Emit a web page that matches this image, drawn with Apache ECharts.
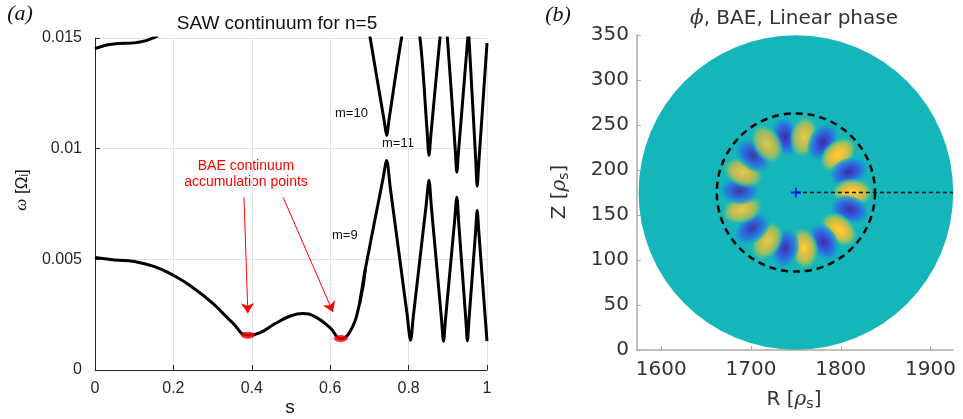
<!DOCTYPE html>
<html><head><meta charset="utf-8">
<script src="https://cdn.jsdelivr.net/npm/echarts@6/dist/echarts.min.js"></script>
<style>html,body{margin:0;padding:0;background:#fff}#c{width:963px;height:419px}</style>
</head><body><div id="c"></div>
<script>
// ---------- Panel (a): SAW continuum ----------
// smooth low-frequency part of the lower branch
const sLowerA = [0,0.05,0.10,0.15,0.20,0.25,0.30,0.35,0.39,0.42,0.46,0.50,0.53,0.56,0.60,0.627,0.65,0.675,0.69];
const wLowerA = [0.00508,0.00497,0.00490,0.00468,0.00428,0.00372,0.00302,0.00215,0.00157,0.00168,0.00210,0.00245,0.00255,0.00242,0.00190,0.00142,0.00172,0.00300,0.00460];
// oscillating part of the lower branch (m=9 ...)
const sLowerB = [0.675,0.69,0.735,0.744,0.753,0.796,0.805,0.812,0.845,0.852,0.858,0.884,0.889,0.894,0.918,0.923,0.928,0.946,0.950,0.954,0.971,0.975,0.979,0.996,1.0];
const wLowerB = [0.00300,0.00460,0.00866,0.00947,0.00827,0.00254,0.00134,0.00242,0.00749,0.00857,0.00739,0.00228,0.00130,0.00226,0.00686,0.00781,0.00661,0.00228,0.00132,0.00226,0.00627,0.00721,0.00627,0.00224,0.00130];
const sUpper = [0.690,0.702,0.738,0.744,0.750,0.782,0.805,0.829,0.847,0.852,0.857,0.880,0.8895,0.899,0.919,0.923,0.927,0.951,0.9525,0.954,0.971,0.975,0.979,1.000];
const wUpper = [0.0163,0.0150,0.01123,0.0106,0.01130,0.0150,0.0170,0.0150,0.01085,0.0097,0.01065,0.0150,0.0165,0.0150,0.00995,0.00894,0.00980,0.0150,0.0153,0.0150,0.00958,0.0083,0.00934,0.01477];
const sTop = [0,0.03,0.06,0.10,0.13,0.15,0.16];
const wTop = [0.01452,0.01468,0.01475,0.01478,0.01488,0.01502,0.0151];
const accumS = [0.39, 0.627];
const accumW = [0.00157, 0.00142];
const arrowFrom = [[0.380, 0.0078], [0.480, 0.0078]];
const arrowTo = [[0.390, 0.00256], [0.607, 0.00262]];
const xTicksA = [0, 0.2, 0.4, 0.6, 0.8, 1];
const yTicksA = [0, 0.005, 0.01, 0.015];

// ---------- Panel (b): phi, BAE ----------
const diskCenter = [1750, 175];
const diskRadius = 175;
const qRadius = 88;
const rayEndR = 1925;
const blobR = [1738,1759,1780,1797,1809,1813,1810,1798,1781,1759,1738,1718,1701,1690,1687,1691,1702,1718];
const blobZ = [237,237,231,217,198,175,156,134,120,113,113,121,135,156,177,197,216,229];
const blobSign = [-1,1,-1,1,-1,1,-1,1,-1,1,-1,1,-1,1,-1,1,-1,1];
const blobAmp = [0.95,0.85,0.95,1,0.95,1,0.95,1,0.95,0.95,0.9,0.85,0.85,0.85,0.85,0.85,0.85,0.8];
const xTicksB = [1600, 1700, 1800, 1900];

const zip = (a, b) => a.map((v, i) => [v, b[i]]);
const TXT = '#262626';
const teal = '#14B6BA';

const chart = echarts.init(document.getElementById('c'), null, {renderer: 'canvas'});

const yellowStops = [
  {offset: 0, color: '#FADB2C'},
  {offset: 0.25, color: '#F5C13A'},
  {offset: 0.5, color: '#D2BE46'},
  {offset: 0.7, color: '#8CC267'},
  {offset: 0.88, color: 'rgba(60,186,160,0.7)'},
  {offset: 1, color: 'rgba(20,182,186,0)'}
];
const blueStops = [
  {offset: 0, color: '#3A2A9A'},
  {offset: 0.25, color: '#3B3FC9'},
  {offset: 0.5, color: '#2F62E0'},
  {offset: 0.7, color: '#2189DA'},
  {offset: 0.88, color: 'rgba(23,170,196,0.7)'},
  {offset: 1, color: 'rgba(20,182,186,0)'}
];

const lineBase = {type: 'line', xAxisIndex: 0, yAxisIndex: 0, symbol: 'none',
  lineStyle: {color: '#000', width: 3}, clip: true, z: 3};

const option = {
  animation: false,
  grid: [
    {left: 95, top: 38, width: 392, height: 332},
    {left: 637, top: 35, width: 316, height: 315}
  ],
  xAxis: [
    {gridIndex: 0, type: 'value', min: 0, max: 1, interval: 0.2,
     axisLine: {show: true, lineStyle: {color: TXT, width: 1}},
     axisTick: {show: true, inside: true, length: 5, lineStyle: {color: TXT}},
     axisLabel: {color: TXT, fontSize: 16, fontFamily: 'Liberation Sans', margin: 11,
       formatter: v => (Math.abs(v) < 1e-9 ? '0' : (Math.abs(v - 1) < 1e-9 ? '1' : String(+v.toFixed(1))))},
     splitLine: {show: true, lineStyle: {color: '#e3e3e3', width: 1}}},
    {gridIndex: 1, type: 'value', min: 1573, max: 1925, splitNumber: 4,
     axisLine: {show: true, lineStyle: {color: '#aaaaaa', width: 1.5}},
     axisTick: {show: true, inside: true, length: 4, lineStyle: {color: '#aaaaaa'}},
     axisLabel: {color: '#333', fontSize: 20, fontFamily: 'DejaVu Sans', margin: 10,
       showMinLabel: false, showMaxLabel: false,
       formatter: v => (xTicksB.indexOf(Math.round(v)) >= 0 ? String(Math.round(v)) : '')},
     splitLine: {show: false}}
  ],
  yAxis: [
    {gridIndex: 0, type: 'value', min: 0, max: 0.015, interval: 0.005,
     axisLine: {show: true, lineStyle: {color: TXT, width: 1}},
     axisTick: {show: true, inside: true, length: 5, lineStyle: {color: TXT}},
     axisLabel: {color: TXT, fontSize: 16, fontFamily: 'Liberation Sans', margin: 13,
       formatter: v => (Math.abs(v) < 1e-12 ? '0' : String(+v.toFixed(3)))},
     splitLine: {show: true, lineStyle: {color: '#e3e3e3', width: 1}}},
    {gridIndex: 1, type: 'value', min: 0, max: 350, interval: 50,
     axisLine: {show: true, lineStyle: {color: '#aaaaaa', width: 1.5}},
     axisTick: {show: true, inside: true, length: 4, lineStyle: {color: '#aaaaaa'}},
     axisLabel: {color: '#333', fontSize: 20, fontFamily: 'DejaVu Sans', margin: 8},
     splitLine: {show: false}}
  ],
  series: [
    Object.assign({}, lineBase, {data: zip(sLowerA, wLowerA), smooth: 0.5}),
    Object.assign({}, lineBase, {data: zip(sLowerB, wLowerB), smooth: 0.3}),
    Object.assign({}, lineBase, {data: zip(sUpper, wUpper), smooth: 0.3}),
    Object.assign({}, lineBase, {data: zip(sTop, wTop), smooth: 0.4}),
    {type: 'scatter', xAxisIndex: 0, yAxisIndex: 0, data: zip(accumS, accumW),
     symbol: 'circle', symbolSize: [14, 7], itemStyle: {color: '#ff0000'}, z: 5,
     markLine: {silent: true, symbol: ['none', 'arrow'], symbolSize: 10,
       label: {show: false}, lineStyle: {color: '#ff0000', width: 1, type: 'solid'},
       data: arrowFrom.map((f, i) => [{coord: f}, {coord: arrowTo[i]}])}},
    // panel b: background disk
    {type: 'custom', xAxisIndex: 1, yAxisIndex: 1, data: [[diskCenter[0], diskCenter[1], diskRadius]],
     z: 1,
     renderItem: (p, api) => {
       const c = api.coord([api.value(0), api.value(1)]);
       const s = api.size([api.value(2), api.value(2)]);
       return {type: 'circle', shape: {cx: c[0], cy: c[1], r: (s[0] + s[1]) / 2}, style: {fill: teal}};
     }},
    // panel b: mode lobes
    {type: 'custom', xAxisIndex: 1, yAxisIndex: 1,
     data: blobR.map((r, i) => [r, blobZ[i], blobSign[i], blobAmp[i]]), z: 2,
     renderItem: (p, api) => {
       const R = api.value(0), Z = api.value(1), sg = api.value(2), amp = api.value(3);
       const c = api.coord([R, Z]);
       const ang = Math.atan2(Z - diskCenter[1], R - diskCenter[0]);
       const radPx = api.size([24, 24])[0];
       const tanPx = api.size([16, 16])[0];
       return {type: 'circle', x: c[0], y: c[1], rotation: ang, scaleX: 1, scaleY: tanPx / radPx,
         shape: {cx: 0, cy: 0, r: radPx},
         style: {opacity: amp, fill: {type: 'radial', x: 0.5, y: 0.5, r: 0.5,
           colorStops: sg > 0 ? yellowStops : blueStops}}};
     }},
    // dashed q-surface circle
    {type: 'custom', xAxisIndex: 1, yAxisIndex: 1, data: [[diskCenter[0], diskCenter[1], qRadius]], z: 4,
     renderItem: (p, api) => {
       const c = api.coord([api.value(0), api.value(1)]);
       const s = api.size([api.value(2), api.value(2)]);
       return {type: 'circle', shape: {cx: c[0], cy: c[1], r: (s[0] + s[1]) / 2},
         style: {fill: 'none', stroke: '#000', lineWidth: 2.5, lineDash: [7, 5]}};
     }},
    {type: 'line', xAxisIndex: 1, yAxisIndex: 1, data: [[diskCenter[0], diskCenter[1]], [rayEndR, diskCenter[1]]],
     symbol: 'none', z: 4, lineStyle: {color: '#111', width: 1.5, type: [4, 3]}},
    {type: 'scatter', xAxisIndex: 1, yAxisIndex: 1, data: [diskCenter], z: 5,
     symbol: 'path://M4,0H6V4H10V6H6V10H4V6H0V4H4Z', symbolSize: 10, itemStyle: {color: '#0000ff'}}
  ],
  graphic: [
    {type: 'text', x: 20, y: 14, style: {text: '(a)', font: 'italic 22px "Liberation Serif"', fill: '#111', align: 'center', verticalAlign: 'middle'}},
    {type: 'text', x: 558, y: 15, style: {text: '(b)', font: 'italic 22px "Liberation Serif"', fill: '#111', align: 'center', verticalAlign: 'middle'}},
    {type: 'text', x: 277, y: 24, style: {text: 'SAW continuum for n=5', font: '19px "Liberation Sans"', fill: '#111', align: 'center', verticalAlign: 'middle'}},
    {type: 'text', x: 794, y: 19, style: {text: '{it|ϕ}, BAE, Linear phase', font: '20px "DejaVu Sans"', fill: '#333', align: 'center', verticalAlign: 'middle',
      rich: {it: {font: 'italic 20px "DejaVu Serif"', fill: '#333'}}}},
    {type: 'text', x: 290, y: 408, style: {text: 's', font: '19px "Liberation Sans"', fill: '#111', align: 'center', verticalAlign: 'middle'}},
    {type: 'text', x: 22, y: 190, rotation: Math.PI / 2, style: {text: '{w|ω} [Ω{sub|i}]', font: '17px "Liberation Sans"', fill: '#111', align: 'center', verticalAlign: 'middle',
      rich: {w: {font: 'italic 17px "Liberation Serif"', fill: '#111'}, sub: {font: '12px "Liberation Sans"', fill: '#111', verticalAlign: 'bottom', padding: [6, 0, 0, 0]}}}},
    {type: 'text', x: 246, y: 166, style: {text: 'BAE continuum', font: '14px "Liberation Sans"', fill: '#ff0000', align: 'center', verticalAlign: 'middle'}},
    {type: 'text', x: 246, y: 182, style: {text: 'accumulation points', font: '14px "Liberation Sans"', fill: '#ff0000', align: 'center', verticalAlign: 'middle'}},
    {type: 'text', x: 335, y: 113, style: {text: 'm=10', font: '13px "Liberation Sans"', fill: '#111', verticalAlign: 'middle'}},
    {type: 'text', x: 382, y: 143, style: {text: 'm=11', font: '13px "Liberation Sans"', fill: '#111', verticalAlign: 'middle'}},
    {type: 'text', x: 332, y: 235, style: {text: 'm=9', font: '13px "Liberation Sans"', fill: '#111', verticalAlign: 'middle'}},
    {type: 'text', x: 794, y: 400, style: {text: 'R [{r|ρ}{sub|s}]', font: '20px "DejaVu Sans"', fill: '#333', align: 'center', verticalAlign: 'middle',
      rich: {r: {font: 'italic 20px "DejaVu Serif"', fill: '#333'}, sub: {font: '14px "DejaVu Sans"', fill: '#333', padding: [8, 0, 0, 0]}}}},
    {type: 'text', x: 560, y: 192, rotation: Math.PI / 2, style: {text: 'Z [{r|ρ}{sub|s}]', font: '20px "DejaVu Sans"', fill: '#333', align: 'center', verticalAlign: 'middle',
      rich: {r: {font: 'italic 20px "DejaVu Serif"', fill: '#333'}, sub: {font: '14px "DejaVu Sans"', fill: '#333', padding: [8, 0, 0, 0]}}}}
  ]
};
chart.setOption(option);
</script>
</body></html>
